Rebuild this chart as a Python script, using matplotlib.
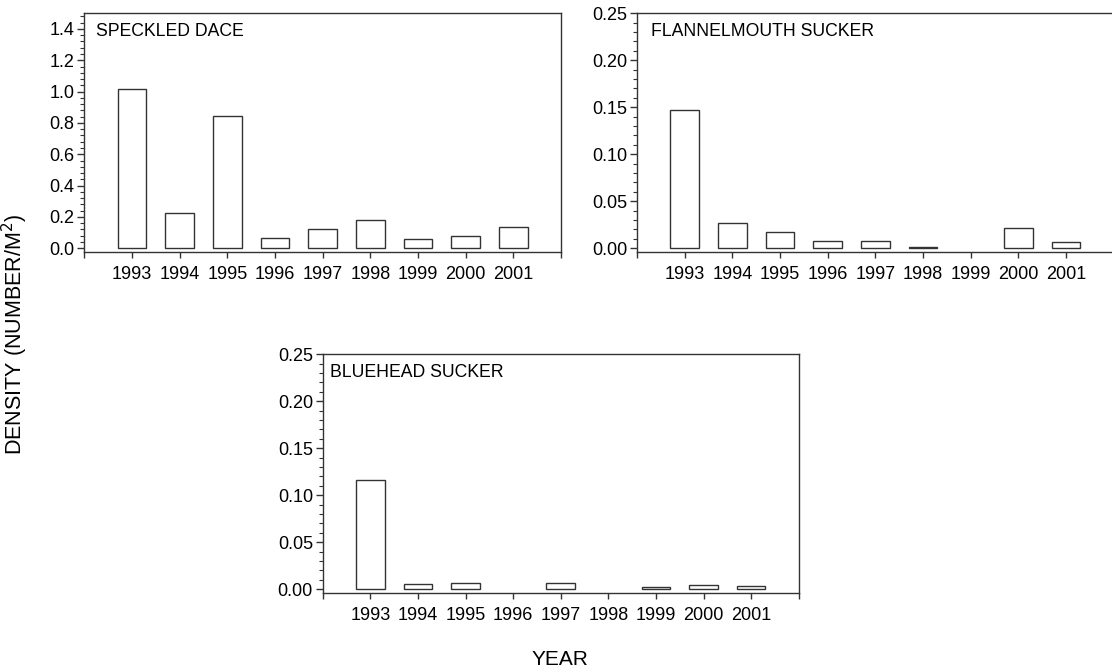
import numpy as np
import matplotlib
matplotlib.use("Agg")
import matplotlib.pyplot as plt
from matplotlib.ticker import MultipleLocator

plt.rcParams['font.family'] = ['Liberation Sans', 'DejaVu Sans']

years = [1993, 1994, 1995, 1996, 1997, 1998, 1999, 2000, 2001]
speckled_dace = [1.018, 0.226, 0.842, 0.068, 0.121, 0.181, 0.062, 0.079, 0.136]
flannelmouth = [0.147, 0.027, 0.017, 0.0072, 0.0075, 0.0014, 0.0, 0.022, 0.0064]
bluehead = [0.1165, 0.0057, 0.0071, 0.0, 0.0067, 0.0, 0.0028, 0.005, 0.0035]

edge = '#333333'

fig = plt.figure(figsize=(11.12, 6.71), dpi=100)

def panel(rect, vals, ylim, major, minor, fmt, title, tx):
    ax = fig.add_axes(rect)
    x = np.array(years)
    v = np.array(vals)
    keep = v > 0
    ax.bar(x[keep], v[keep], width=0.6, color='white', edgecolor=edge, linewidth=1.0)
    ax.set_xlim(1992, 2002)
    ax.set_ylim(*ylim)
    ticks = list(range(1992, 2003))
    ax.set_xticks(ticks)
    ax.set_xticklabels([str(t) if t in years else '' for t in ticks])
    ax.yaxis.set_major_locator(MultipleLocator(major))
    ax.yaxis.set_minor_locator(MultipleLocator(minor))
    ax.set_yticks([t for t in ax.get_yticks() if 0 <= t <= ylim[1] + 1e-9])
    ax.yaxis.set_major_formatter(plt.FormatStrFormatter(fmt))
    ax.tick_params(axis='x', direction='out', length=4, width=1, color=edge,
                   labelsize=13, pad=6)
    ax.tick_params(axis='y', which='major', direction='out', length=5, width=1,
                   color=edge, labelsize=13, pad=2)
    ax.tick_params(axis='y', which='minor', direction='out', length=3, width=0.8,
                   color=edge)
    for s in ax.spines.values():
        s.set_color(edge)
        s.set_linewidth(1.0)
    ax.text(tx, 0.925, title, transform=ax.transAxes, fontsize=12.7,
            ha='left', va='center')
    return ax

panel([0.0758, 0.624, 0.4287, 0.3562], speckled_dace, (-0.026, 1.5),
      0.2, 0.04, '%.1f', 'SPECKLED DACE', 0.025)
panel([0.5728, 0.624, 0.4287, 0.3562], flannelmouth, (-0.0043, 0.25),
      0.05, 0.01, '%.2f', 'FLANNELMOUTH SUCKER', 0.029)
panel([0.2902, 0.1158, 0.4281, 0.3562], bluehead, (-0.0043, 0.25),
      0.05, 0.01, '%.2f', 'BLUEHEAD SUCKER', 0.015)

fig.text(0.013, 0.502, 'DENSITY (NUMBER/M$^{2}$)', rotation=90, fontsize=15.5,
         ha='center', va='center')
fig.text(0.5036, 0.0085, 'YEAR', fontsize=15, ha='center', va='baseline')

fig.savefig('out.png', dpi=100)
